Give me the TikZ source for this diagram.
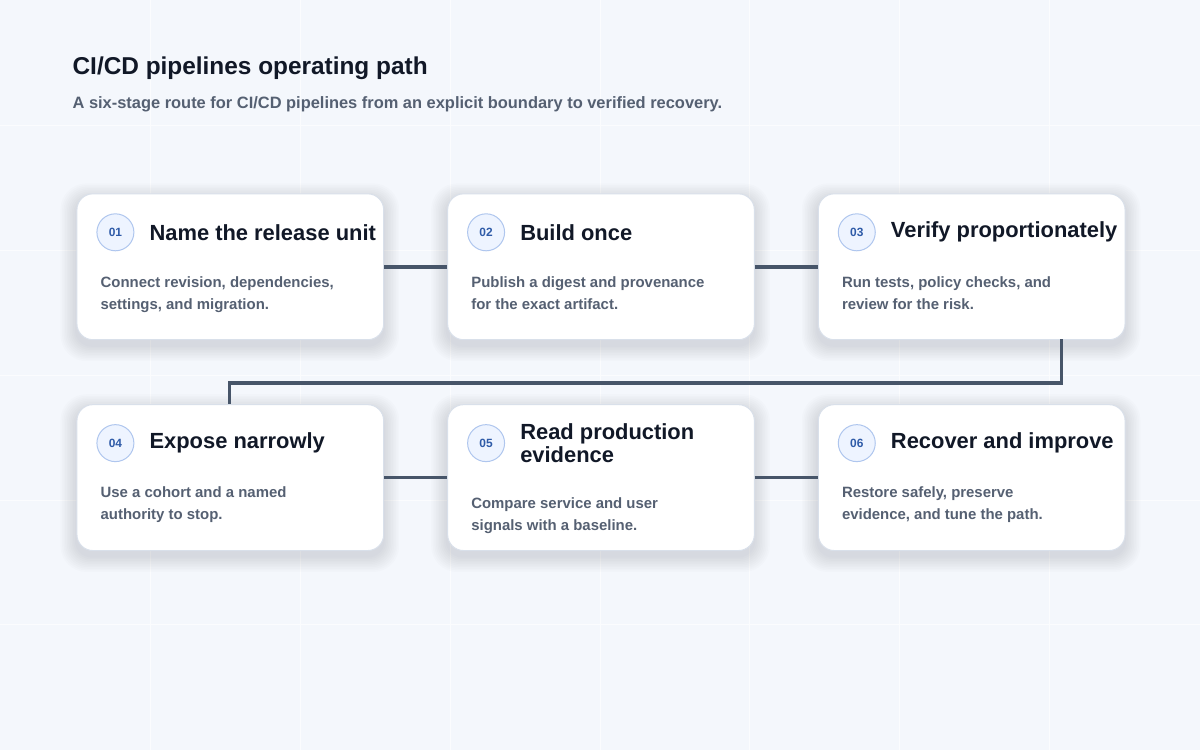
\documentclass[tikz,border=0pt]{standalone}
\usepackage{fontspec}
\setmainfont{Liberation Sans}
\definecolor{bg}{HTML}{F4F7FC}
\definecolor{ink}{HTML}{111827}
\definecolor{sub}{HTML}{556072}
\definecolor{line}{HTML}{475569}
\definecolor{cbord}{HTML}{D9E0EA}
\definecolor{numfill}{HTML}{EEF4FF}
\definecolor{numbord}{HTML}{AFC6EE}
\definecolor{numtx}{HTML}{2F5BA8}
\definecolor{shd}{HTML}{1E293B}
\begin{document}
\begin{tikzpicture}[x=1bp,y=-1bp,
 card/.style={draw=cbord,line width=1bp,fill=white,rounded corners=16bp,minimum width=307bp,minimum height=146bp,anchor=north west},
 num/.style={circle,draw=numbord,fill=numfill,line width=1bp,minimum size=37bp,inner sep=0pt,font=\fontsize{12}{12}\selectfont\bfseries,text=numtx},
 ttl/.style={anchor=west,align=left,font=\fontsize{22}{24}\selectfont\bfseries,text=ink,inner sep=0pt},
 body/.style={anchor=north west,align=left,font=\fontsize{15}{22}\selectfont\bfseries,text=sub,inner sep=0pt},
 conn/.style={draw=line,line width=3.5bp}]
\fill[bg] (0,0) rectangle (1200,750);
\foreach \x in {150,300,...,1050} \draw[white!60!bg,line width=1bp] (\x,0)--(\x,750);
\foreach \y in {125,250,...,625} \draw[white!60!bg,line width=1bp] (0,\y)--(1200,\y);
\node[anchor=west,inner sep=0pt,font=\fontsize{24.5}{26}\selectfont\bfseries,text=ink] (t) at (72,68) {CI/CD pipelines operating path};
\node[anchor=west,inner sep=0pt,font=\fontsize{16.5}{18}\selectfont\bfseries,text=sub] (st) at (72,104) {A six-stage route for CI/CD pipelines from an explicit boundary to verified recovery.};
\foreach \i/\x/\y/\n/\T in {
 1/76/193/01/{Name the release unit},
 2/447/193/02/{Build once},
 3/818/193/03/{Verify proportionately},
 4/76/404/04/{Expose narrowly},
 5/447/404/05/{Read production\\evidence},
 6/818/404/06/{Recover and improve}}{
 \foreach \k in {1,...,10}
   \fill[shd,opacity=0.012,rounded corners=16bp+\k bp] (\x-\k*1.6,\y+6-\k*1.6) rectangle (\x+307+\k*1.6,\y+146+6+\k*1.6);
 \node[card] (c\i) at (\x,\y) {};
 \node[num] (n\i) at (\x+39,\y+39) {\n};
 \node[ttl] (h\i) at (\x+73,\y+39) {\T};
}
\node[body] (b1) at (100,276) {Connect revision, dependencies,\\settings, and migration.};
\node[body] (b2) at (471,276) {Publish a digest and provenance\\for the exact artifact.};
\node[body] (b3) at (842,276) {Run tests, policy checks, and\\review for the risk.};
\node[body] (b4) at (100,486) {Use a cohort and a named\\authority to stop.};
\node[body] (b5) at (471,497) {Compare service and user\\signals with a baseline.};
\node[body] (b6) at (842,486) {Restore safely, preserve\\evidence, and tune the path.};
\draw[conn] (c1.east) -- (c2.west);
\draw[conn] (c2.east) -- (c3.west);
\draw[conn] (c4.east) -- (c5.west);
\draw[conn] (c5.east) -- (c6.west);
\coordinate (k1) at (1062,383);
\coordinate (k2) at (229,383);
\draw[conn] (1062,339) -- (k1) -- (k2) -- (229,404);
\end{tikzpicture}
\end{document}
